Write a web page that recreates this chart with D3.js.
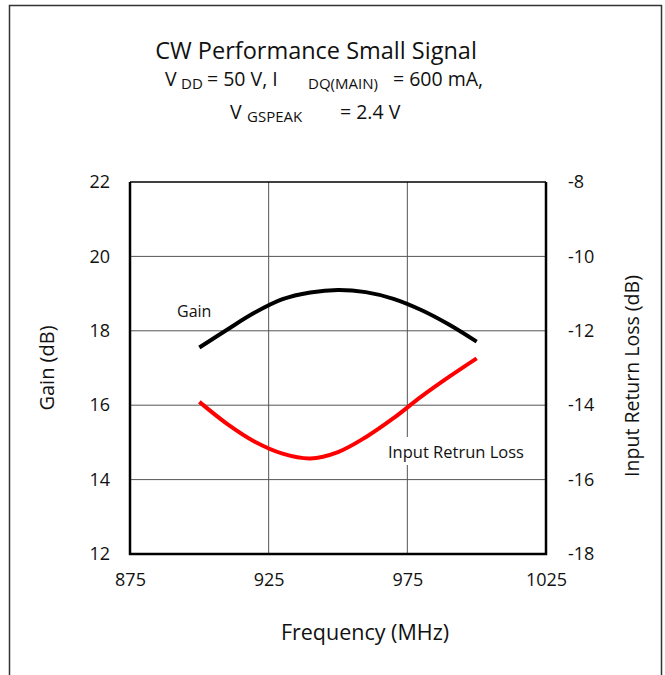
<!DOCTYPE html>
<html>
<head>
<meta charset="utf-8">
<script src="https://cdn.jsdelivr.net/npm/d3@7"></script>
<style>
  body { margin: 0; background: #fff; }
  svg { display: block; font-family: "Open Sans", sans-serif; }
</style>
</head>
<body>
<div id="canvas"></div>
<script>
// values
const freq = [900, 910, 920, 930, 940, 950, 960, 970, 980, 990, 1000];
const gain = [17.55, 18.03, 18.49, 18.85, 19.03, 19.1, 19.04, 18.86, 18.56, 18.17, 17.71];
const irl = [-13.91, -14.5, -14.98, -15.3, -15.43, -15.26, -14.86, -14.35, -13.77, -13.24, -12.74];
const xTicks = [875, 925, 975, 1025];
const gainTicks = [12, 14, 16, 18, 20, 22];
const irlTicks = [-18, -16, -14, -12, -10, -8];

const W = 665, H = 675;
const pLeft = 130, pRight = 546, pTop = 182, pBottom = 554;

const svg = d3.select('#canvas').append('svg')
  .attr('width', W)
  .attr('height', H);

// outer frame
svg.append('rect')
  .attr('x', 9.5).attr('y', 5.5)
  .attr('width', 652).attr('height', 700)
  .attr('fill', 'none')
  .attr('stroke', '#333')
  .attr('stroke-width', 1.5);

const x = d3.scaleLinear().domain([875, 1025]).range([pLeft, pRight]);
const yL = d3.scaleLinear().domain([12, 22]).range([pBottom, pTop]);
const yR = d3.scaleLinear().domain([-18, -8]).range([pBottom, pTop]);

// grid
const grid = svg.append('g').attr('stroke', '#555').attr('stroke-width', 1);
grid.selectAll('.vg').data(xTicks.slice(1, -1)).enter().append('line')
  .attr('x1', d => x(d)).attr('x2', d => x(d))
  .attr('y1', pTop).attr('y2', pBottom);
grid.selectAll('.hg').data(gainTicks.slice(1, -1)).enter().append('line')
  .attr('x1', pLeft).attr('x2', pRight)
  .attr('y1', d => yL(d)).attr('y2', d => yL(d));

// axes
const fmt = d => String(d);
const xAxis = d3.axisBottom(x).tickValues(xTicks).tickFormat(fmt).tickSize(0).tickPadding(19);
const lAxis = d3.axisLeft(yL).tickValues(gainTicks).tickFormat(fmt).tickSize(0).tickPadding(20);
const rAxis = d3.axisRight(yR).tickValues(irlTicks).tickFormat(fmt).tickSize(0).tickPadding(22);

const styleAxis = g => {
  g.select('.domain').remove();
  g.selectAll('text').attr('font-size', '18px').attr('fill', '#111')
    .attr('font-family', '"Open Sans", sans-serif');
};

svg.append('g').attr('transform', `translate(0,${pBottom})`).call(xAxis).call(styleAxis);
svg.append('g').attr('transform', `translate(${pLeft},0)`).call(lAxis).call(styleAxis);
svg.append('g').attr('transform', `translate(${pRight},0)`).call(rAxis).call(styleAxis);

// plot box
svg.append('line').attr('x1', pLeft).attr('x2', pRight).attr('y1', pTop).attr('y2', pTop)
  .attr('stroke', '#000').attr('stroke-width', 1.5);
svg.append('path')
  .attr('d', `M${pLeft},${pTop}V${pBottom}H${pRight}V${pTop}`)
  .attr('fill', 'none').attr('stroke', '#000').attr('stroke-width', 2.5);

// curves
const gainLine = d3.line().x((d, i) => x(freq[i])).y(d => yL(d)).curve(d3.curveCatmullRom.alpha(0.5));
const irlLine = d3.line().x((d, i) => x(freq[i])).y(d => yR(d)).curve(d3.curveCatmullRom.alpha(0.5));

svg.append('path').datum(gain).attr('d', gainLine)
  .attr('fill', 'none').attr('stroke', '#000').attr('stroke-width', 4);
svg.append('path').datum(irl).attr('d', irlLine)
  .attr('fill', 'none').attr('stroke', '#ff0000').attr('stroke-width', 4);

// curve labels
svg.append('text').text('Gain')
  .attr('x', 177).attr('y', 317).attr('font-size', '16px').attr('fill', '#111');
svg.append('rect').attr('x', 385).attr('y', 437).attr('width', 142).attr('height', 28).attr('fill', '#fff');
svg.append('text').text('Input Retrun Loss')
  .attr('x', 388).attr('y', 458).attr('font-size', '16.5px').attr('fill', '#111');

// axis titles
svg.append('text').text('Frequency (MHz)')
  .attr('x', 365).attr('y', 640).attr('text-anchor', 'middle')
  .attr('font-size', '21.5px').attr('fill', '#111');
svg.append('text').text('Gain (dB)')
  .attr('transform', 'translate(54,368) rotate(-90)').attr('text-anchor', 'middle')
  .attr('font-size', '20px').attr('fill', '#111');
svg.append('text').text('Input Return Loss (dB)')
  .attr('transform', 'translate(639,376) rotate(-90)').attr('text-anchor', 'middle')
  .attr('font-size', '19.5px').attr('fill', '#111');

// title block: one text, three lines, subscripts smaller and dropped
const title = svg.append('text').attr('fill', '#111');
title.append('tspan').text('CW Performance Small Signal')
  .attr('x', 316).attr('y', 58.5).attr('text-anchor', 'middle').attr('font-size', '23.5px');
const sub = (parts, y) => parts.forEach(p => title.append('tspan').text(p[0])
  .attr('x', p[1]).attr('y', p[2] ? y + 3 : y)
  .attr('font-size', p[2] ? '15px' : '19.5px'));
sub([['V', 165], ['DD', 181, 1], ['= 50 V, I', 207], ['DQ(MAIN)', 308, 1], ['= 600 mA,', 393]], 86);
sub([['V', 230], ['GSPEAK', 247, 1], ['= 2.4 V', 340]], 119);
</script>
</body>
</html>
